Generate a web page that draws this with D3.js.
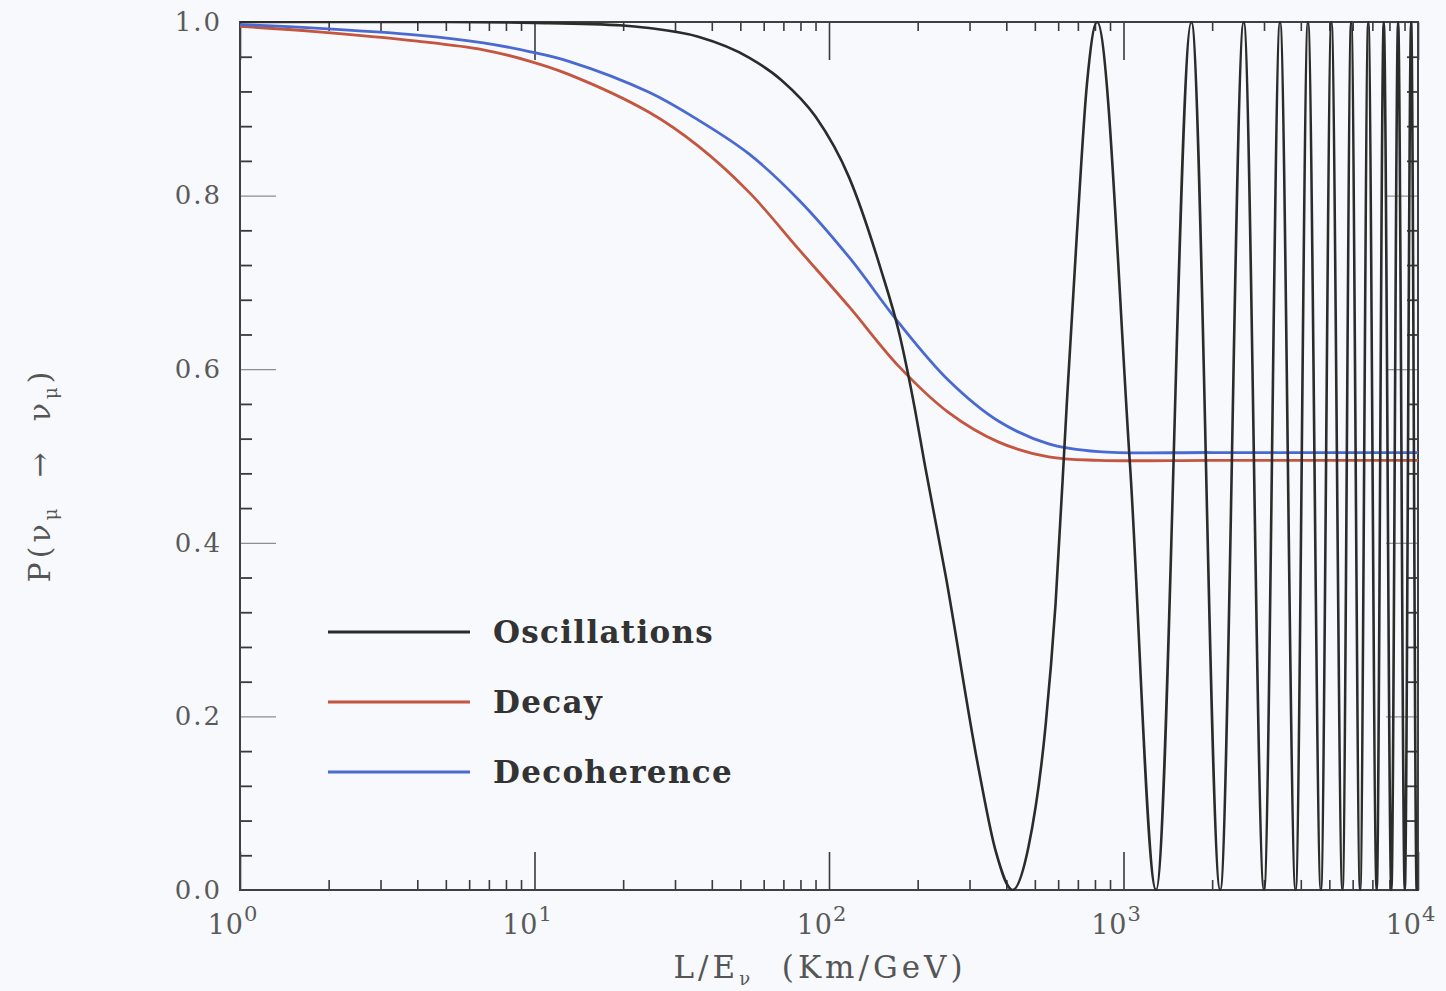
<!DOCTYPE html>
<html>
<head>
<meta charset="utf-8">
<script src="https://cdn.jsdelivr.net/npm/d3@7"></script>
<style>
  body { margin: 0; background: #f7f9fc; }
  svg { display: block; }
</style>
</head>
<body>
<svg class="target"></svg>
<script>
// values (L/E in km/GeV, probability)
var decayX = [1, 1.8, 4, 6.7, 9.6, 13, 24.5, 36, 53.5, 79, 117, 173, 255, 377, 557, 823, 2000, 10000];
var decayY = [0.995, 0.989, 0.978, 0.968, 0.955, 0.940, 0.896, 0.857, 0.804, 0.738, 0.672, 0.603, 0.550, 0.516, 0.499, 0.495, 0.495, 0.495];

var decohX = [1, 1.8, 4, 6.7, 9.6, 13, 24.5, 36, 53.5, 79, 117, 173, 255, 377, 557, 823, 2000, 10000];
var decohY = [0.997, 0.993, 0.985, 0.976, 0.966, 0.955, 0.919, 0.887, 0.848, 0.795, 0.729, 0.653, 0.587, 0.540, 0.514, 0.505, 0.504, 0.504];

// first slow fall of the oscillation curve
var oscX = [1, 5, 10, 20, 24.5, 36, 53.5, 69, 90, 117, 150, 173, 196, 211, 249, 322, 368, 420, 476, 544, 588, 643, 695, 752, 813, 1052];
var oscY = [1, 1, 0.999, 0.996, 0.993, 0.983, 0.959, 0.933, 0.891, 0.821, 0.715, 0.642, 0.553, 0.492, 0.362, 0.14, 0.045, 0, 0.05, 0.19, 0.33, 0.565, 0.757, 0.93, 1, 0.49];
// fast oscillations: positions of minima and maxima
var oscTroughs = [1290, 2130, 3000, 3840, 4680, 5540, 6360, 7240, 8120, 9020, 9900];
var oscPeaks = [1700, 2560, 3400, 4230, 5080, 5930, 6780, 7650, 8560, 9480];
var oscEnd = [10000, 0.03];

var yMajor = [0, 0.2, 0.4, 0.6, 0.8, 1.0];
var xMajor = [1, 10, 100, 1000, 10000];
var xExponents = ["0", "1", "2", "3", "4"];

var legendNames = ["Oscillations", "Decay", "Decoherence"];
var colors = ["#2b2b2b", "#c4553f", "#4a6ad2"];

var view_w = 1446;
var view_h = 991;
var plotL = 240, plotR = 1418, plotT = 22, plotB = 890;

var svg = d3.select(".target").attr("width", view_w).attr("height", view_h);

var x = d3.scaleLog().domain([1, 10000]).range([plotL, plotR]);
var y = d3.scaleLinear().domain([0, 1]).range([plotB, plotT]);

// minor tick positions
var xMinor = [];
[1, 10, 100, 1000].forEach(function (d) {
    for (var m = 2; m <= 9; m++) xMinor.push(d * m);
});
var yMinor = d3.range(0, 1.0001, 0.04).filter(function (v) {
    return Math.abs(v * 5 - Math.round(v * 5)) > 1e-6;
});

var draw_ticks = function (axis, transform, color, width) {
    var g = svg.append("g").attr("transform", transform).call(axis);
    g.select(".domain").remove();
    g.selectAll(".tick line").style("stroke", color).style("stroke-width", width);
    return g;
};

// x ticks, bottom and top
draw_ticks(d3.axisBottom(x).tickValues(xMajor).tickSize(-38).tickFormat(""), "translate(0," + plotB + ")", "#3a3a3a", 1.6);
draw_ticks(d3.axisBottom(x).tickValues(xMinor).tickSize(-10).tickFormat(""), "translate(0," + plotB + ")", "#3a3a3a", 1.6);
draw_ticks(d3.axisTop(x).tickValues(xMajor).tickSize(-38).tickFormat(""), "translate(0," + plotT + ")", "#3a3a3a", 1.6);
draw_ticks(d3.axisTop(x).tickValues(xMinor).tickSize(-9).tickFormat(""), "translate(0," + plotT + ")", "#3a3a3a", 1.6);

// y ticks, left and right
var yl = draw_ticks(d3.axisLeft(y).tickValues(yMajor).tickSize(-36).tickPadding(18).tickFormat(d3.format(".1f")), "translate(" + plotL + ",0)", "#8a8f96", 1.2);
yl.selectAll(".tick text")
    .style("font-family", "'DejaVu Serif', serif")
    .style("font-size", "26px")
    .style("letter-spacing", "2px")
    .style("fill", "#5a5a5a");
draw_ticks(d3.axisLeft(y).tickValues(yMinor).tickSize(-12).tickFormat(""), "translate(" + plotL + ",0)", "#3a3a3a", 1.8);
draw_ticks(d3.axisRight(y).tickValues(yMajor).tickSize(-32).tickFormat(""), "translate(" + plotR + ",0)", "#8a8f96", 1.2);
draw_ticks(d3.axisRight(y).tickValues(yMinor).tickSize(-11).tickFormat(""), "translate(" + plotR + ",0)", "#3a3a3a", 1.8);

// x tick labels with exponents
var xl = svg.append("g")
    .selectAll("text")
    .data(xMajor)
    .join("text")
    .attr("x", function (d) { return x(d) - 7; })
    .attr("y", 934)
    .attr("text-anchor", "middle")
    .style("font-family", "'DejaVu Serif', serif")
    .style("font-size", "27px")
    .style("letter-spacing", "1px")
    .style("fill", "#5a5a5a");
xl.append("tspan").text("10");
xl.append("tspan")
    .attr("dy", -13)
    .style("font-size", "21px")
    .text(function (d, i) { return xExponents[i]; });

// frame
svg.append("rect")
    .attr("x", plotL).attr("y", plotT)
    .attr("width", plotR - plotL).attr("height", plotB - plotT)
    .style("fill", "none")
    .style("stroke", "#404040")
    .style("stroke-width", 2);

svg.append("clipPath").attr("id", "plot-clip")
    .append("rect")
    .attr("x", plotL).attr("y", plotT - 1)
    .attr("width", plotR - plotL).attr("height", plotB - plotT + 2);

var zip = function (xs, ys) {
    return xs.map(function (v, i) { return [v, ys[i]]; });
};

var oscPoints = zip(oscX, oscY)
    .concat(oscTroughs.map(function (v) { return [v, 0]; }))
    .concat(oscPeaks.map(function (v) { return [v, 1]; }));
oscPoints.push(oscEnd);
oscPoints.sort(function (a, b) { return a[0] - b[0]; });

var smooth = d3.line()
    .x(function (d) { return x(d[0]); })
    .y(function (d) { return y(d[1]); })
    .curve(d3.curveCatmullRom.alpha(0.5));
var wave = d3.line()
    .x(function (d) { return x(d[0]); })
    .y(function (d) { return y(d[1]); })
    .curve(d3.curveMonotoneX);

var plot = svg.append("g").attr("clip-path", "url(#plot-clip)");

plot.append("path")
    .attr("d", smooth(zip(decayX, decayY)))
    .style("fill", "none")
    .style("stroke", colors[1])
    .style("stroke-width", 2.8);
plot.append("path")
    .attr("d", smooth(zip(decohX, decohY)))
    .style("fill", "none")
    .style("stroke", colors[2])
    .style("stroke-width", 2.8);
plot.append("path")
    .attr("d", wave(oscPoints))
    .style("fill", "none")
    .style("stroke", colors[0])
    .style("stroke-width", 2.6);

// legend
var legend = svg.append("g")
    .selectAll("g")
    .data(legendNames)
    .join("g")
    .attr("transform", function (d, i) { return "translate(0," + (632 + i * 70) + ")"; });
legend.append("line")
    .attr("x1", 328).attr("x2", 470)
    .style("stroke", function (d, i) { return colors[i]; })
    .style("stroke-width", 2.8);
legend.append("text")
    .attr("x", 493)
    .attr("y", 11)
    .style("font-family", "'DejaVu Serif', serif")
    .style("font-weight", "bold")
    .style("font-size", "31px")
    .style("letter-spacing", "1.3px")
    .style("fill", "#333")
    .text(function (d) { return d; });

// axis titles
var xt = svg.append("text")
    .attr("x", 820)
    .attr("y", 978)
    .attr("text-anchor", "middle")
    .style("font-family", "'DejaVu Serif', serif")
    .style("font-size", "31px")
    .style("letter-spacing", "4px")
    .style("fill", "#555")
    .style("white-space", "pre");
xt.append("tspan").text("L/E");
xt.append("tspan").attr("dy", 7).style("font-size", "18px").text("ν");
xt.append("tspan").attr("dy", -7).text("  (Km/GeV)");

var yt = svg.append("text")
    .attr("transform", "translate(50,475) rotate(-90)")
    .attr("text-anchor", "middle")
    .style("font-family", "'DejaVu Serif', serif")
    .style("font-size", "30px")
    .style("letter-spacing", "4px")
    .style("fill", "#555")
    .style("white-space", "pre");
yt.append("tspan").text("P(ν");
yt.append("tspan").attr("dy", 7).style("font-size", "18px").text("μ");
yt.append("tspan").attr("dy", -7).text("  →  ν");
yt.append("tspan").attr("dy", 7).style("font-size", "18px").text("μ");
yt.append("tspan").attr("dy", -7).text(")");
</script>
</body>
</html>
